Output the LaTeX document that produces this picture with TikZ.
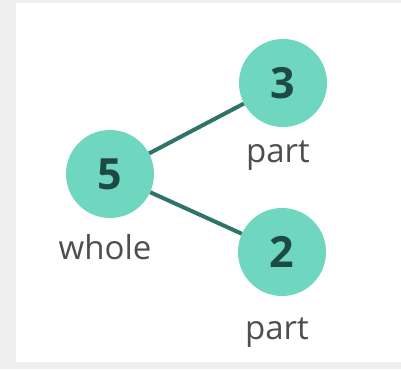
\documentclass[tikz,border=0pt]{standalone}
\usepackage{fontspec}
\setmainfont{Open Sans}
\definecolor{mint}{HTML}{6FD6BF}
\definecolor{linkcol}{HTML}{2F7468}
\definecolor{digitcol}{HTML}{1E4A45}
\definecolor{labelcol}{HTML}{4E4E4E}
\definecolor{outerbg}{HTML}{EFEFEF}
\tikzset{
  bubble/.style={circle, fill=mint, minimum size=88pt, inner sep=0pt,
    font=\fontsize{43}{45}\selectfont\bfseries, text=digitcol},
  tag/.style={font=\fontsize{33}{35}\selectfont, text=labelcol, inner sep=0pt},
  link/.style={draw=linkcol, line width=4pt}
}
\begin{document}
\begin{tikzpicture}[x=1pt,y=1pt]
  \useasboundingbox (0,0) rectangle (401,369);
  \fill[outerbg] (0,0) rectangle (401,369);
  \fill[white] (16,7) rectangle (401,366);
  \node[bubble] (whole) at (110,195) {5};
  \node[bubble] (top) at (283,286) {3};
  \node[bubble] (bot) at (282,117) {2};
  \node[tag] (wl) at (105,122) {whole};
  \node[tag] (tl) at (278,213) {part};
  \node[tag] (bl) at (277,36) {part};
  \draw[link] (whole) -- (top);
  \draw[link] (whole) -- (bot);
\end{tikzpicture}
\end{document}
